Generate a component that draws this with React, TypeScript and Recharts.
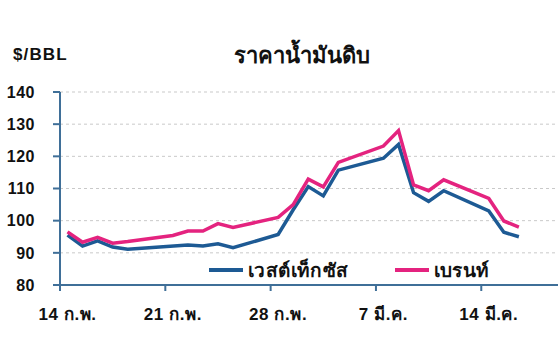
import { LineChart, Line, XAxis, YAxis, CartesianGrid } from "recharts";

const BLUE = "#1d5a94";
const PINK = "#e4237f";
const AXIS = "#3f6f98";
const FONT = "'Liberation Sans', 'Noto Sans', sans-serif";
const DAY_PX = 15.05;

// days counted from 14 Feb
const DAYS   = [0, 1, 2, 3, 4, 7, 8, 9, 10, 11, 14, 15, 16, 17, 18, 21, 22, 23, 24, 25, 28, 29, 30];
const WTI    = [95.5, 92.1, 93.7, 91.8, 91.1, null, 92.4, 92.1, 92.8, 91.6, 95.7, 103.4, 110.6, 107.7, 115.7, 119.4, 123.7, 108.7, 106.0, 109.3, 103.0, 96.4, 95.0];
const BRENT  = [96.5, 93.3, 94.8, 93.0, 93.5, 95.4, 96.8, 96.8, 99.1, 97.9, 101.0, 105.0, 112.9, 110.5, 118.1, 123.2, 128.0, 111.1, 109.3, 112.7, 106.9, 99.9, 98.0];

// ticks sit on day boundaries, labels at the day centre
const TICK_DAYS   = [-0.5, 6.5, 13.5, 20.5, 27.5];
const TICK_LABELS = ["14 ก.พ.", "21 ก.พ.", "28 ก.พ.", "7 มี.ค.", "14 มี.ค."];
const Y_TICKS = [80, 90, 100, 110, 120, 130, 140];

const data = DAYS.map((d, i) => ({ day: d, wti: WTI[i], brent: BRENT[i] }));

function DateTick(props: any) {
  const { x, y, payload } = props;
  const label = TICK_LABELS[TICK_DAYS.indexOf(payload.value)] ?? "";
  return (
    <text x={x + DAY_PX / 2} y={y} dy="0.71em" textAnchor="middle" fill="#111"
      style={{ fontSize: 17, fontWeight: 700, letterSpacing: 0.6, fontFamily: FONT }}>
      {label}
    </text>
  );
}

function LegendBox() {
  const item = (color: string, label: string, gap: number) => (
    <div style={{ display: "flex", alignItems: "center", marginRight: gap }}>
      <div style={{ width: 34, height: 4, background: color, marginRight: 5 }} />
      <span style={{ fontSize: 19, fontWeight: 700, letterSpacing: 0.4, color: "#111" }}>{label}</span>
    </div>
  );
  return (
    <div style={{ position: "absolute", left: 209, top: 255, display: "flex", zIndex: 2 }}>
      {item(BLUE, "เวสต์เท็กซัส", 46)}
      {item(PINK, "เบรนท์", 0)}
    </div>
  );
}

export default function App() {
  return (
    <div style={{ position: "absolute", left: 0, top: 0, width: 559, height: 358, background: "#fff", fontFamily: FONT }}>
      <div style={{ position: "absolute", left: 13, top: 45, fontSize: 17, fontWeight: 700, letterSpacing: 1.1, color: "#111" }}>$/BBL</div>
      <div style={{ position: "absolute", left: 0, width: 604, top: 38, textAlign: "center", fontSize: 22, fontWeight: 700, color: "#111" }}>
        ราคาน้ำมันดิบ
      </div>
      <LineChart width={559} height={358} data={data} margin={{ top: 92, right: 1, bottom: 0, left: 10 }}>
        <CartesianGrid vertical={false} stroke="#c9c9c9" strokeDasharray="3 3" />
        <XAxis
          dataKey="day"
          type="number"
          domain={[-0.5, 32.6]}
          ticks={TICK_DAYS}
          tick={<DateTick />}
          stroke={AXIS}
          strokeWidth={2}
          tickSize={6}
          tickMargin={17}
          interval={0}
          height={73}
        />
        <YAxis
          domain={[80, 140]}
          ticks={Y_TICKS}
          stroke={AXIS}
          strokeWidth={2}
          width={50}
          tickSize={7}
          tickMargin={18}
          tick={{ fill: "#111", fontSize: 16, fontWeight: 700, letterSpacing: 0.5 }}
          interval={0}
        />
        <Line dataKey="wti" stroke={BLUE} strokeWidth={3.5} dot={false} connectNulls isAnimationActive={false} />
        <Line dataKey="brent" stroke={PINK} strokeWidth={3.5} dot={false} isAnimationActive={false} />
      </LineChart>
      <LegendBox />
    </div>
  );
}
